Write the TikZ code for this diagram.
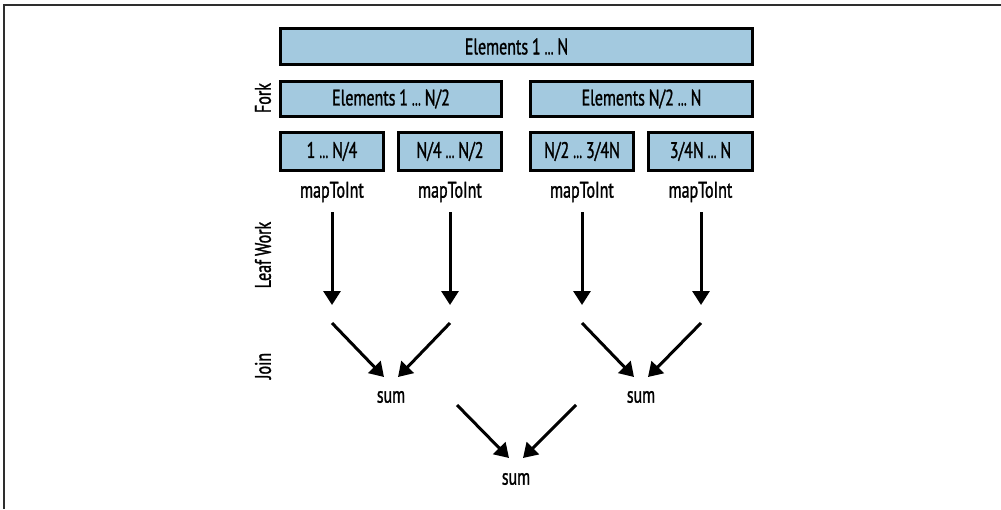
\documentclass[tikz,border=0pt]{standalone}
\usepackage{fontspec}
\usepackage{graphicx}
\setmainfont[FakeStretch=0.71,FakeBold=1.2,WordSpace=0.9]{PT Sans}
\usetikzlibrary{arrows.meta}
\definecolor{boxblue}{HTML}{A3C9DF}
\definecolor{framegray}{HTML}{2E2E2E}
\newcommand\dotsx{\scalebox{0.75}[1]{…}}
\begin{document}
\begin{tikzpicture}[x=1pt,y=-1pt,
  blk/.style={draw=black, fill=boxblue, line width=3pt, inner sep=0pt,
    font=\fontsize{22.5}{24}\selectfont},
  lbl/.style={inner sep=0pt, font=\fontsize{22.5}{24}\selectfont},
  side/.style={inner sep=0pt, rotate=90, font=\fontsize{22.5}{24}\selectfont},
  arr/.style={line width=3pt, -{Triangle[width=17pt,length=14pt]}}]
\useasboundingbox (0,0) rectangle (1001,509);
\draw[framegray, line width=2pt] (1001,5) -- (4,5) -- (4,509);
% boxes
\node[blk, minimum width=472pt, minimum height=36pt] (all) at (516.5,46.5) {Elements 1 \dotsx{} N};
\node[blk, minimum width=221pt, minimum height=35pt] (h1) at (391,99) {Elements 1 \dotsx{} N/2};
\node[blk, minimum width=222pt, minimum height=35pt] (h2) at (641.5,99) {Elements N/2 \dotsx{} N};
\node[blk, minimum width=103pt, minimum height=38pt] (q1) at (332,151.5) {1 \dotsx{} N/4};
\node[blk, minimum width=103pt, minimum height=38pt] (q2) at (450,151.5) {N/4 \dotsx{} N/2};
\node[blk, minimum width=103pt, minimum height=38pt] (q3) at (582,151.5) {N/2 \dotsx{} 3/4N};
\node[blk, minimum width=104pt, minimum height=38pt] (q4) at (700.5,151.5) {3/4N \dotsx{} N};
% side labels
\node[side] (fork) at (263,98) {Fork};
\node[side] (leaf) at (263,255) {Leaf Work};
\node[side] (join) at (263,366) {Join};
% mapToInt labels
\node[lbl] (m1) at (332,192) {mapToInt};
\node[lbl] (m2) at (450,192) {mapToInt};
\node[lbl] (m3) at (582,192) {mapToInt};
\node[lbl] (m4) at (700.5,192) {mapToInt};
% sums
\node[lbl] (s1) at (391,397) {sum};
\node[lbl] (s2) at (641,397) {sum};
\node[lbl] (s3) at (516,479) {sum};
% arrow coordinates
\coordinate (a1) at (332,212); \coordinate (b1) at (332,305);
\coordinate (a2) at (450,212); \coordinate (b2) at (450,305);
\coordinate (a3) at (582,212); \coordinate (b3) at (582,305);
\coordinate (a4) at (701,212); \coordinate (b4) at (701,305);
\draw[arr] (a1) -- (b1);
\draw[arr] (a2) -- (b2);
\draw[arr] (a3) -- (b3);
\draw[arr] (a4) -- (b4);
\coordinate (j1) at (332,323); \coordinate (k1) at (384,377);
\coordinate (j2) at (450,323); \coordinate (k2) at (398,377);
\coordinate (j3) at (582,323); \coordinate (k3) at (634,377);
\coordinate (j4) at (701,323); \coordinate (k4) at (648,377);
\draw[arr] (j1) -- (k1);
\draw[arr] (j2) -- (k2);
\draw[arr] (j3) -- (k3);
\draw[arr] (j4) -- (k4);
\coordinate (u1) at (457,405); \coordinate (v1) at (509,458);
\coordinate (u2) at (576,405); \coordinate (v2) at (523,458);
\draw[arr] (u1) -- (v1);
\draw[arr] (u2) -- (v2);
\end{tikzpicture}
\end{document}
